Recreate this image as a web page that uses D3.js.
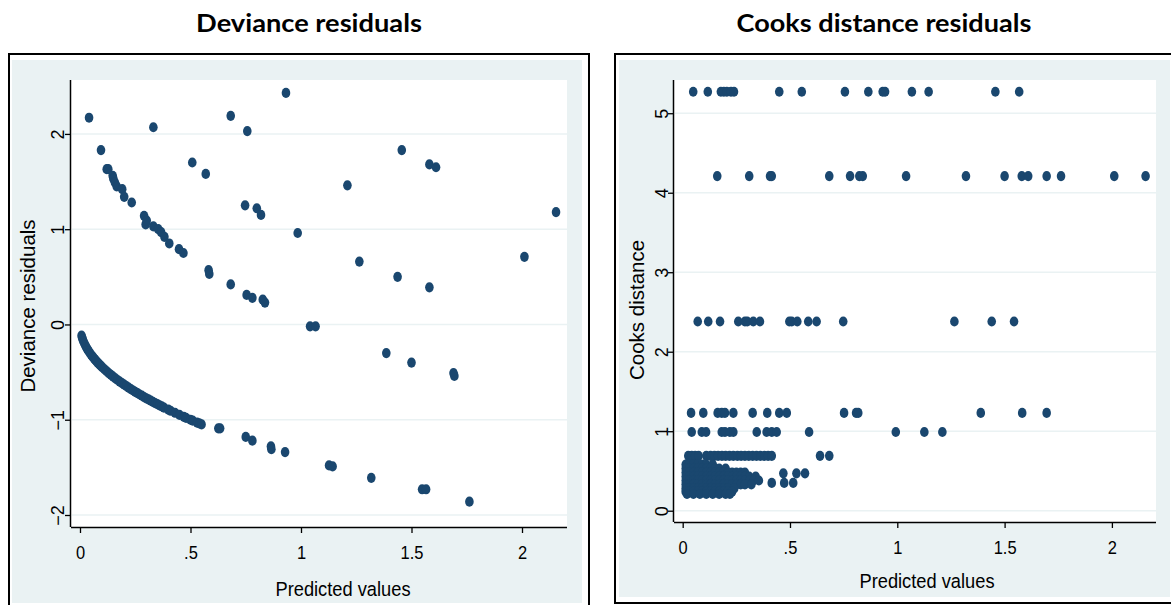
<!DOCTYPE html>
<html>
<head>
<meta charset="utf-8">
<script src="https://cdn.jsdelivr.net/npm/d3@7"></script>
<style>
  html, body { margin: 0; padding: 0; background: #ffffff; }
  svg { display: block; }
</style>
</head>
<body>
<svg id="chart" width="1171" height="605"></svg>
<script>
// ---- Tick values and labels ----
const predTicks = [0, 0.5, 1, 1.5, 2];
const predTickLabels = ["0", ".5", "1", "1.5", "2"];
const devTicks = [-2, -1, 0, 1, 2];
const cookTicks = [0, 1, 2, 3, 4, 5];

// ---- Deviance residuals vs predicted values ----
// lower branch (observations with count 0)
const devLowPred = [0.007, 0.01, 0.013, 0.016, 0.02, 0.024, 0.028, 0.032, 0.036, 0.04, 0.045, 0.05,
  0.055, 0.06, 0.065, 0.07, 0.075, 0.08, 0.085, 0.09, 0.095, 0.10, 0.11, 0.12, 0.13, 0.14, 0.15,
  0.16, 0.17, 0.18, 0.19, 0.20, 0.21, 0.22, 0.23, 0.24, 0.25, 0.26, 0.27, 0.28, 0.29, 0.30, 0.31,
  0.32, 0.33, 0.34, 0.35, 0.36, 0.37, 0.38, 0.40, 0.41, 0.43, 0.45, 0.47, 0.48, 0.50, 0.51, 0.53,
  0.54, 0.55, 0.626, 0.634, 0.75, 0.78, 0.864, 0.866, 0.928];
const devLowResid = [-0.118, -0.141, -0.161, -0.179, -0.200, -0.219, -0.237, -0.253, -0.268, -0.283,
  -0.300, -0.316, -0.332, -0.346, -0.361, -0.374, -0.387, -0.400, -0.412, -0.424, -0.436, -0.447,
  -0.469, -0.490, -0.510, -0.529, -0.548, -0.566, -0.583, -0.600, -0.616, -0.632, -0.648, -0.663,
  -0.678, -0.693, -0.707, -0.721, -0.735, -0.748, -0.762, -0.775, -0.787, -0.800, -0.812, -0.825,
  -0.837, -0.849, -0.860, -0.872, -0.894, -0.906, -0.927, -0.949, -0.970, -0.980, -1.000, -1.010,
  -1.030, -1.039, -1.049, -1.09, -1.09, -1.18, -1.22, -1.28, -1.31, -1.34];

// remaining observations
const devHighPred = [0.041, 0.332, 0.682, 0.757, 0.932, 0.095, 0.508, 0.569,
  0.121, 0.128, 0.148, 0.151, 0.158, 0.166, 0.191, 0.200, 0.234,
  0.290, 0.297, 0.302, 0.332, 0.354, 0.367, 0.382, 0.404, 0.448, 0.468,
  0.582, 0.585, 0.682, 0.754, 0.780, 0.827, 0.837,
  0.747, 0.800, 0.819, 0.985,
  1.456, 1.581, 1.611, 1.210, 2.154, 1.264, 1.437, 1.581, 2.011, 1.041, 1.066,
  1.386, 1.500, 1.690, 1.694, 1.127, 1.143, 1.318, 1.548, 1.566, 1.762];
const devHighResid = [2.17, 2.07, 2.19, 2.03, 2.43, 1.83, 1.70, 1.58,
  1.63, 1.63, 1.56, 1.53, 1.49, 1.45, 1.42, 1.34, 1.28,
  1.14, 1.05, 1.09, 1.03, 1.00, 0.97, 0.92, 0.85, 0.79, 0.75,
  0.57, 0.53, 0.42, 0.31, 0.28, 0.26, 0.23,
  1.25, 1.22, 1.15, 0.96,
  1.83, 1.68, 1.65, 1.46, 1.18, 0.66, 0.50, 0.39, 0.71, -0.02, -0.02,
  -0.30, -0.40, -0.51, -0.54, -1.48, -1.49, -1.61, -1.73, -1.73, -1.86];

// ---- Cook's distance vs predicted values ----
const cookLevels = [5.27, 4.21, 2.38, 1.23, 0.99, 0.69];
const cookLevelPred = [
  [0.049, 0.117, 0.178, 0.192, 0.206, 0.225, 0.239, 0.45, 0.555, 0.756, 0.865, 0.932, 0.943, 1.068, 1.146, 1.457, 1.568],
  [0.161, 0.31, 0.407, 0.415, 0.683, 0.78, 0.823, 0.839, 1.041, 1.32, 1.5, 1.58, 1.61, 1.696, 1.763, 2.011, 2.157],
  [0.07, 0.119, 0.174, 0.259, 0.29, 0.301, 0.329, 0.36, 0.497, 0.508, 0.534, 0.585, 0.624, 0.748, 1.266, 1.44, 1.544],
  [0.039, 0.096, 0.163, 0.182, 0.197, 0.236, 0.326, 0.394, 0.45, 0.485, 0.752, 0.808, 0.818, 1.389, 1.582, 1.696],
  [0.042, 0.089, 0.109, 0.182, 0.197, 0.22, 0.236, 0.345, 0.391, 0.415, 0.438, 0.589, 0.993, 1.126, 1.21],
  [0.026, 0.042, 0.058, 0.074, 0.11, 0.13, 0.148, 0.165, 0.183, 0.2, 0.218, 0.236, 0.255, 0.272, 0.29,
   0.308, 0.326, 0.344, 0.362, 0.38, 0.398, 0.415, 0.64, 0.683]
];
// low-influence cluster
const cookLowDist = [0.58, 0.53, 0.48, 0.43, 0.38, 0.33, 0.28, 0.24, 0.21];
const cookLowPred = [
  [0.014, 0.03, 0.05, 0.07, 0.09, 0.11, 0.14],
  [0.014, 0.03, 0.05, 0.07, 0.09, 0.11, 0.13, 0.15, 0.17, 0.2],
  [0.014, 0.03, 0.05, 0.07, 0.09, 0.11, 0.13, 0.15, 0.17, 0.19, 0.21, 0.23, 0.25, 0.27, 0.29],
  [0.014, 0.03, 0.05, 0.07, 0.09, 0.11, 0.13, 0.15, 0.17, 0.19, 0.21, 0.23, 0.25, 0.27, 0.29, 0.31, 0.34],
  [0.014, 0.03, 0.05, 0.07, 0.09, 0.11, 0.13, 0.15, 0.17, 0.19, 0.21, 0.23, 0.25, 0.27, 0.29, 0.31, 0.33, 0.355],
  [0.014, 0.03, 0.05, 0.07, 0.09, 0.11, 0.13, 0.15, 0.17, 0.19, 0.21, 0.23, 0.25, 0.27, 0.29, 0.32],
  [0.014, 0.03, 0.05, 0.07, 0.09, 0.11, 0.13, 0.15, 0.17, 0.19, 0.21, 0.24],
  [0.014, 0.03, 0.05, 0.07, 0.09, 0.11, 0.13, 0.15, 0.17, 0.19, 0.21, 0.23],
  [0.02, 0.05, 0.08, 0.11, 0.14, 0.17, 0.2, 0.22]
];
const cookExtraPred = [0.415, 0.469, 0.473, 0.515, 0.53, 0.57];
const cookExtraDist = [0.35, 0.47, 0.35, 0.35, 0.47, 0.47];

// ---- styling ----
const MARK = "#1a476f";
const BAND = "#eaf2f3";
const GRID = "#eaf2f3";
const TXT_STRETCH = 1.12;
const SANS = "Liberation Sans, Arial, sans-serif";

const svg = d3.select("#chart");
svg.append("rect").attr("width", 1171).attr("height", 605).attr("fill", "#fff");

function panel(cfg) {
  const g = svg.append("g");
  // frame and shaded graph region
  g.append("rect").attr("x", cfg.frame[0]).attr("y", cfg.frame[1])
    .attr("width", cfg.frame[2] - cfg.frame[0]).attr("height", cfg.frame[3] - cfg.frame[1])
    .attr("fill", "#fff").attr("stroke", "#000").attr("stroke-width", 2);
  g.append("rect").attr("x", cfg.band[0]).attr("y", cfg.band[1])
    .attr("width", cfg.band[2] - cfg.band[0]).attr("height", cfg.band[3] - cfg.band[1])
    .attr("fill", BAND);
  const [L, T, R, B] = cfg.plot;
  g.append("rect").attr("x", L).attr("y", T).attr("width", R - L).attr("height", B - T).attr("fill", "#fff");

  const x = d3.scaleLinear().domain(cfg.xDomain).range([L, R]);
  const y = d3.scaleLinear().domain(cfg.yDomain).range([B, T]);

  // horizontal grid
  g.append("g").selectAll("line").data(cfg.yTicks).join("line")
    .attr("x1", L + 1).attr("x2", R).attr("y1", d => y(d)).attr("y2", d => y(d))
    .attr("stroke", GRID).attr("stroke-width", 1.5);

  // axes
  const xAxis = d3.axisBottom(x).tickValues(predTicks).tickSize(6)
    .tickFormat((d, i) => predTickLabels[i]);
  const gx = g.append("g").attr("transform", `translate(0,${B})`).call(xAxis);
  gx.select(".domain").attr("d", `M${L},0.5H${R}`).attr("stroke", "#000").attr("stroke-width", 1.5);
  gx.selectAll(".tick line").attr("stroke", "#000").attr("stroke-width", 1.3);
  gx.selectAll(".tick text").attr("y", 0).attr("dy", null)
    .attr("transform", `translate(0,${cfg.xLabelBase - B}) scale(1,${TXT_STRETCH})`)
    .attr("font-family", SANS).attr("font-size", 16.5).attr("fill", "#000");

  const yAxis = d3.axisLeft(y).tickValues(cfg.yTicks).tickSize(6).tickFormat(d3.format("d"));
  const gy = g.append("g").attr("transform", `translate(${L},0)`).call(yAxis);
  gy.select(".domain").attr("d", `M-0.5,${T}V${B}`).attr("stroke", "#000").attr("stroke-width", 1.5);
  gy.selectAll(".tick line").attr("stroke", "#000").attr("stroke-width", 1.3);
  gy.selectAll(".tick text").attr("x", 0).attr("dy", null).attr("text-anchor", "middle")
    .attr("transform", `translate(${cfg.yLabelBase - L},0) rotate(-90)`)
    .attr("font-family", SANS).attr("font-size", 18).attr("fill", "#000");

  // markers
  g.append("g").selectAll("ellipse").data(cfg.points).join("ellipse")
    .attr("cx", d => x(d[0])).attr("cy", d => y(d[1]))
    .attr("rx", 4.3).attr("ry", 5.1).attr("fill", MARK);

  // axis titles
  g.append("text").attr("transform", `translate(${cfg.xTitle[0]},${cfg.xTitle[1]}) scale(1,${TXT_STRETCH})`)
    .attr("text-anchor", "middle").attr("font-family", SANS)
    .attr("font-size", 18.3).attr("fill", "#000").text(cfg.xTitleText);
  g.append("text").attr("transform", `translate(${cfg.yTitle[0]},${cfg.yTitle[1]}) rotate(-90)`)
    .attr("text-anchor", "middle").attr("font-family", SANS)
    .attr("font-size", 20.5).attr("fill", "#000").text(cfg.yTitleText);

  // panel heading, fitted to its set width
  const h = svg.append("text")
    .attr("text-anchor", "middle").attr("font-family", "Lato, 'Open Sans', sans-serif")
    .attr("font-weight", 700).attr("font-size", 24).attr("fill", "#000").text(cfg.headingText);
  const w = h.node().getComputedTextLength();
  h.attr("transform", `translate(${cfg.heading[0]},${cfg.heading[1]}) scale(${cfg.headingWidth / w},1)`);
}

const devPoints = devLowPred.map((p, i) => [p, devLowResid[i]])
  .concat(devHighPred.map((p, i) => [p, devHighResid[i]]));

const cookPoints = [];
cookLevels.forEach((lv, i) => cookLevelPred[i].forEach(p => cookPoints.push([p, lv])));
cookLowDist.forEach((lv, i) => cookLowPred[i].forEach(p => cookPoints.push([p, lv])));
cookExtraPred.forEach((p, i) => cookPoints.push([p, cookExtraDist[i]]));

panel({
  frame: [9, 54, 589, 607], band: [12, 60, 582, 603], plot: [71, 80, 567, 527],
  xDomain: [-0.0407, 2.2036], yDomain: [-2.126, 2.566], yTicks: devTicks,
  xLabelBase: 559, yLabelBase: 64,
  points: devPoints,
  xTitle: [343, 596], xTitleText: "Predicted values",
  yTitle: [35, 306], yTitleText: "Deviance residuals",
  heading: [309, 32], headingWidth: 226, headingText: "Deviance residuals"
});

panel({
  frame: [615, 54, 1173, 603], band: [619, 60, 1170, 597], plot: [674, 80, 1156, 522],
  xDomain: [-0.0405, 2.2055], yDomain: [-0.142, 5.418], yTicks: cookTicks,
  xLabelBase: 554, yLabelBase: 668,
  points: cookPoints,
  xTitle: [927, 588], xTitleText: "Predicted values",
  yTitle: [644, 310], yTitleText: "Cooks distance",
  heading: [884, 32], headingWidth: 295, headingText: "Cooks distance residuals"
});
</script>
</body>
</html>
